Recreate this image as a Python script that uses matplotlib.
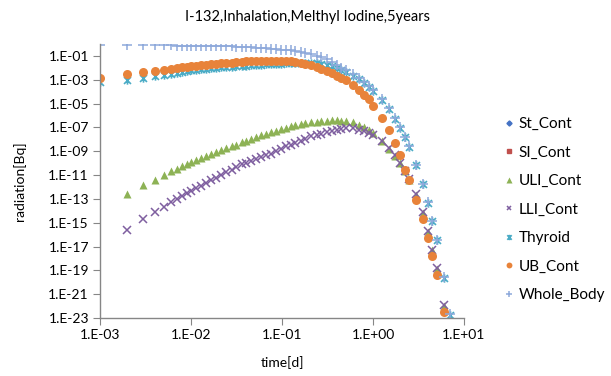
import numpy as np
import matplotlib
matplotlib.use("Agg")
import matplotlib.pyplot as plt
from matplotlib.path import Path
from matplotlib.ticker import FixedLocator, FuncFormatter, NullLocator

plt.rcParams['font.family'] = ['Lato', 'DejaVu Sans']

title = "I-132,Inhalation,Melthyl Iodine,5years"

# time [d]
time_d = [0.001, 0.002, 0.003, 0.004, 0.005, 0.006, 0.007, 0.008, 0.009, 0.01,
          0.0114, 0.013, 0.0147, 0.0167, 0.019, 0.0215, 0.0245, 0.028, 0.031,
          0.036, 0.04, 0.046, 0.052, 0.059, 0.067, 0.076, 0.086, 0.098,
          0.11, 0.125, 0.14, 0.16, 0.18, 0.21, 0.24, 0.27, 0.31, 0.35, 0.4, 0.45,
          0.5, 0.6, 0.7, 0.8, 0.9, 1.0, 1.25, 1.5, 1.75, 2.0, 2.25, 2.5,
          3.0, 3.5, 4.0, 4.5, 5.0, 6.0, 7.0]

st_cont = []
si_cont = []

uli_cont = [np.nan, 2.4e-13, 1.41e-12, 4.0e-12, 9.5e-12, 2.1e-11, 3.5e-11, 5.4e-11, 8.3e-11, 1.26e-10,
            1.86e-10, 2.7e-10, 3.9e-10, 5.8e-10, 8.3e-10, 1.2e-9, 1.7e-9, 2.5e-9, 3.4e-9,
            5.5e-9, 7.4e-9, 1.12e-8, 1.58e-8, 2.2e-8, 2.9e-8, 3.9e-8, 5.1e-8, 6.9e-8,
            9.1e-8, 1.2e-7, 1.48e-7, 1.82e-7, 2.2e-7, 2.6e-7, 3.1e-7, 3.4e-7, 3.6e-7, 3.8e-7, 3.8e-7, 3.6e-7,
            3.4e-7, 2.7e-7, 1.74e-7, 1.0e-7, 6.0e-8, 3.2e-8, 7.1e-9, 1.58e-9, 4.0e-10, 1.0e-10, 2.0e-11, 4.0e-12,
            2.0e-13, 6.3e-15, 1.78e-16, 5.0e-18, 1.26e-19, 1.0e-22, 7.9e-26]

lli_cont = [np.nan, 2.5e-16, 1.9e-15, 7.9e-15, 2.24e-14, 5.2e-14, 1.07e-13, 1.86e-13, 3.2e-13, 4.8e-13,
            7.6e-13, 1.2e-12, 2.1e-12, 3.5e-12, 6.0e-12, 1.05e-11, 1.78e-11, 2.9e-11, 4.5e-11,
            7.9e-11, 1.12e-10, 1.58e-10, 2.14e-10, 3.0e-10, 4.4e-10, 6.0e-10, 9.5e-10, 1.66e-9,
            2.5e-9, 3.5e-9, 5.2e-9, 7.9e-9, 1.12e-8, 1.78e-8, 2.4e-8, 3.0e-8, 3.8e-8, 4.8e-8, 6.0e-8, 7.6e-8,
            8.3e-8, 8.3e-8, 6.6e-8, 4.8e-8, 3.5e-8, 2.5e-8, 7.1e-9, 1.86e-9, 4.5e-10, 1.07e-10, 2.24e-11, 4.5e-12,
            2.5e-13, 7.6e-15, 2.0e-16, 5.5e-18, 1.48e-19, 1.26e-22, 1.0e-25]

thyroid = [6.9e-4, 1.0e-3, 1.5e-3, 2.1e-3, 2.6e-3, 3.3e-3, 4.0e-3, 4.7e-3, 5.5e-3, 6.3e-3,
           6.9e-3, 7.6e-3, 8.3e-3, 9.1e-3, 1.0e-2, 1.07e-2, 1.15e-2, 1.23e-2, 1.32e-2,
           1.41e-2, 1.51e-2, 1.62e-2, 1.74e-2, 1.86e-2, 2.0e-2, 2.1e-2, 2.2e-2, 2.3e-2,
           2.4e-2, 2.45e-2, 2.5e-2, 2.5e-2, 2.5e-2, 2.45e-2, 2.35e-2, 2.2e-2, 1.8e-2, 1.35e-2, 9.3e-3, 6.6e-3,
           4.6e-3, 2.2e-3, 1.07e-3, 5.2e-4, 2.5e-4, 1.23e-4, 2.0e-5, 3.3e-6, 5.4e-7, 8.9e-8, 1.45e-8, 2.4e-9,
           6.5e-11, 1.74e-12, 4.7e-14, 1.26e-15, 3.4e-17, 2.5e-20, 1.78e-23]

ub_cont = [1.35e-3, 2.9e-3, 4.3e-3, 5.5e-3, 7.2e-3, 8.7e-3, 1.0e-2, 1.12e-2, 1.26e-2, 1.38e-2,
           1.51e-2, 1.66e-2, 1.82e-2, 1.95e-2, 2.14e-2, 2.34e-2, 2.5e-2, 2.75e-2, 2.95e-2,
           3.16e-2, 3.4e-2, 3.55e-2, 3.7e-2, 3.8e-2, 3.9e-2, 4.0e-2, 4.0e-2, 3.9e-2,
           3.7e-2, 3.4e-2, 2.95e-2, 2.4e-2, 2.0e-2, 1.58e-2, 1.07e-2, 8.5e-3, 5.5e-3, 3.5e-3, 2.1e-3, 1.32e-3,
           8.7e-4, 3.8e-4, 1.38e-4, 5.4e-5, 2.24e-5, 6.3e-6, 6.3e-7, 6.3e-8, 5.0e-9, 4.5e-10, 2.8e-11, 3.55e-12,
           7.8e-14, 2.1e-15, 5.6e-17, 1.5e-18, 4.1e-20, 3.4e-23, 2.5e-26]

whole_body = [8.3e-1, 7.9e-1, 7.9e-1, 7.8e-1, 7.6e-1, 7.6e-1, 7.4e-1, 7.2e-1, 7.1e-1, 6.9e-1,
              6.9e-1, 6.8e-1, 6.8e-1, 6.6e-1, 6.6e-1, 6.5e-1, 6.3e-1, 6.2e-1, 6.0e-1,
              5.8e-1, 5.5e-1, 5.1e-1, 4.8e-1, 4.5e-1, 4.2e-1, 3.9e-1, 3.6e-1, 3.4e-1,
              3.2e-1, 2.9e-1, 2.6e-1, 2.2e-1, 1.9e-1, 1.4e-1, 1.05e-1, 7.6e-2, 5.6e-2, 3.2e-2, 1.8e-2, 1.0e-2,
              6.0e-3, 2.9e-3, 1.35e-3, 6.5e-4, 3.1e-4, 1.5e-4, 2.4e-5, 3.9e-6, 6.3e-7, 1.0e-7, 1.7e-8, 2.7e-9,
              7.2e-11, 1.9e-12, 5.2e-14, 1.4e-15, 3.8e-17, 2.8e-20, 2.0e-23]

# excel-like "star" marker: x with a vertical bar
star = Path([(-1, -1), (1, 1), (-1, 1), (1, -1), (0, -1.2), (0, 1.2)],
            [Path.MOVETO, Path.LINETO, Path.MOVETO, Path.LINETO, Path.MOVETO, Path.LINETO])

fig = plt.figure(figsize=(6.11, 3.76), dpi=100)
ax = fig.add_axes([0.1637, 0.1543, 0.5957, 0.7287])

ax.plot(st_cont, st_cont, ls='none', marker='D', ms=4, color='#4472C4', label='St_Cont')
ax.plot(si_cont, si_cont, ls='none', marker='s', ms=5, color='#C0504D', label='SI_Cont')
ax.plot(time_d, uli_cont, ls='none', marker='^', ms=6, color='#8DB255', mec='none', label='ULI_Cont')
ax.plot(time_d, lli_cont, ls='none', marker='x', ms=5.5, mew=1.1, color='#7F5FA0', label='LLI_Cont')
ax.plot(time_d, thyroid, ls='none', marker=star, ms=6, mew=1.2, color='#4BACC6', label='Thyroid')
ax.plot(time_d, ub_cont, ls='none', marker='o', ms=6.5, color='#E8833A', mec='none', label='UB_Cont')
ax.plot(time_d, whole_body, ls='none', marker='+', ms=6.5, mew=1.1, color='#8EA9DB', label='Whole_Body')

ax.set_xscale('log')
ax.set_yscale('log')
ax.set_xlim(1e-3, 1e1)
ax.set_ylim(1e-23, 1e0)

fmt = FuncFormatter(lambda v, p: "1.E%+03d" % int(round(np.log10(v))))
ax.xaxis.set_major_locator(FixedLocator([1e-3, 1e-2, 1e-1, 1e0, 1e1]))
ax.yaxis.set_major_locator(FixedLocator([10.0 ** e for e in range(-23, 0, 2)]))
ax.xaxis.set_minor_locator(NullLocator())
ax.yaxis.set_minor_locator(NullLocator())
ax.xaxis.set_major_formatter(fmt)
ax.yaxis.set_major_formatter(fmt)

for s in ['top', 'right']:
    ax.spines[s].set_visible(False)
for s in ['left', 'bottom']:
    ax.spines[s].set_color('#868686')
    ax.spines[s].set_linewidth(1.0)
ax.tick_params(axis='both', direction='out', length=5, color='#868686',
               labelsize=10, labelcolor='#000000', pad=3)

ax.set_xlabel('time[d]', fontsize=10, labelpad=11)
ax.set_ylabel('radiation[Bq]', fontsize=10, labelpad=16)
fig.text(0.503, 0.955, title, ha='center', va='center', fontsize=10.5)

fig.legend(loc='upper left', bbox_to_anchor=(0.815, 0.705), frameon=False,
           fontsize=11, labelspacing=0.95, handlelength=0.6, handletextpad=0.35,
           markerscale=0.65, borderaxespad=0)

fig.savefig('out.png', dpi=100)
